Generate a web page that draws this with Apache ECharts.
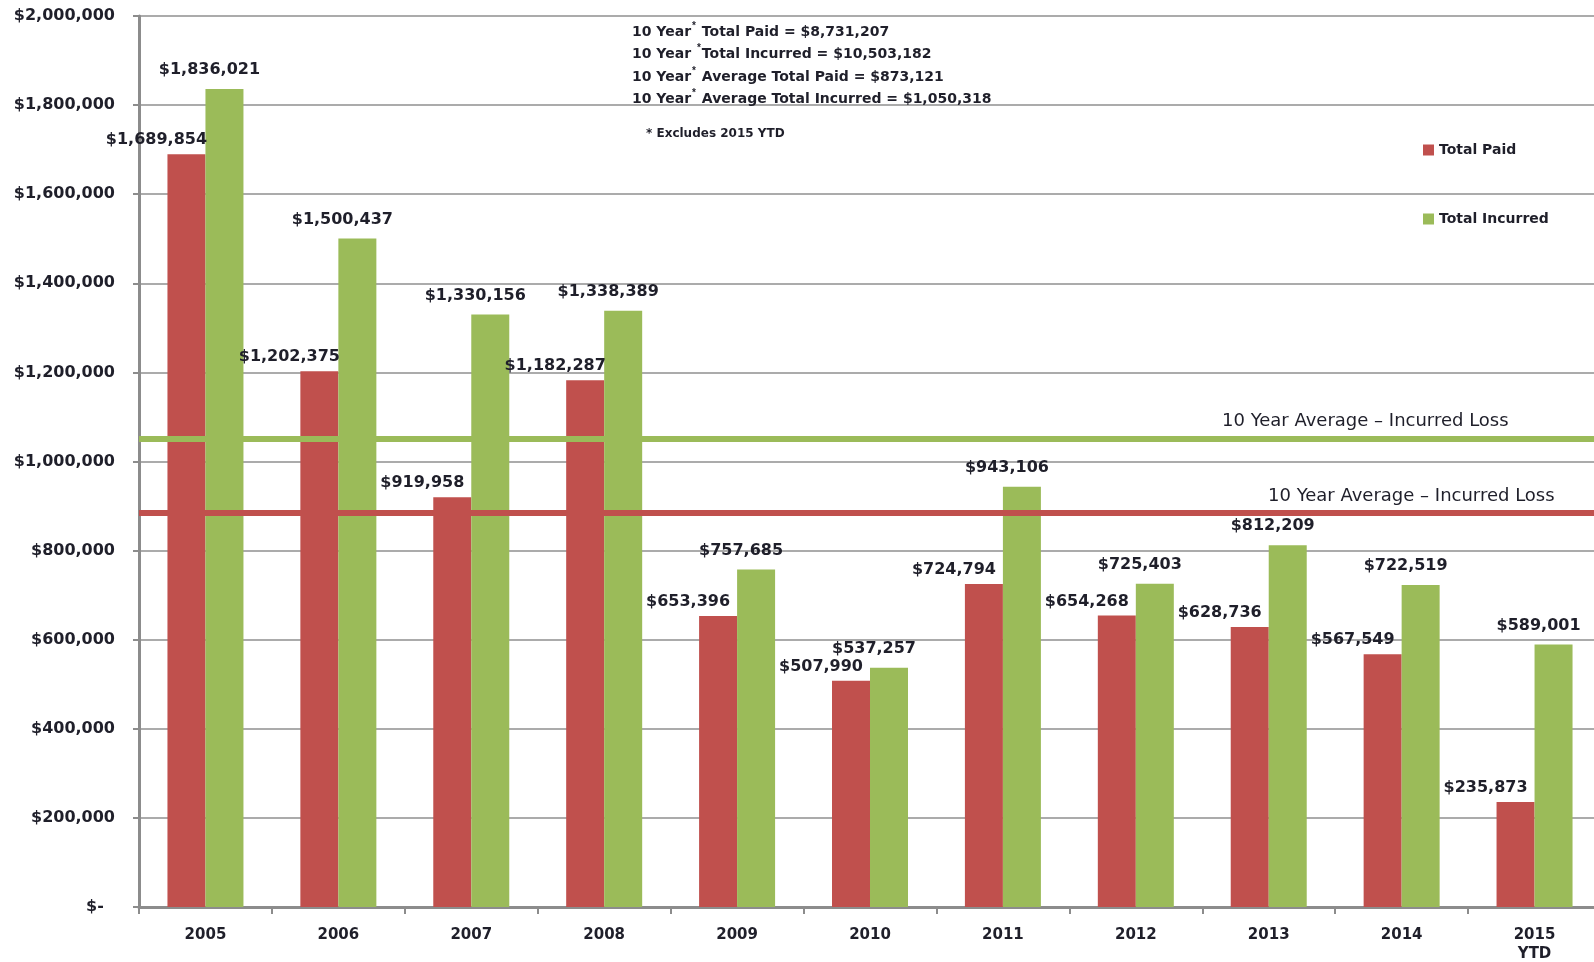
<!DOCTYPE html>
<html>
<head>
<meta charset="utf-8">
<script src="https://cdn.jsdelivr.net/npm/echarts@6/dist/echarts.min.js"></script>
<style>
  html, body { margin: 0; padding: 0; background: #fff; }
  #chart { width: 1594px; height: 962px; }
</style>
</head>
<body>
<div id="chart"></div>
<script>
// categories and values
const years = ['2005', '2006', '2007', '2008', '2009', '2010', '2011', '2012', '2013', '2014', '2015\nYTD'];
const totalPaid = [1689854, 1202375, 919958, 1182287, 653396, 507990, 724794, 654268, 628736, 567549, 235873];
const totalIncurred = [1836021, 1500437, 1330156, 1338389, 757685, 537257, 943106, 725403, 812209, 722519, 589001];
// the two average lines as drawn
const avgIncurredLine = 1050318;
const avgPaidLine = 885000;
const summaryLines = [
  ['10 Year', '*', ' Total Paid = $8,731,207'],
  ['10 Year ', '*', 'Total Incurred = $10,503,182'],
  ['10 Year', '*', ' Average Total Paid = $873,121'],
  ['10 Year', '*', ' Average Total Incurred = $1,050,318']
];

const RED = '#C0504D';
const GREEN = '#9BBB59';
const TEXT = '#1f1f2a';
const FONT = 'DejaVu Sans';

const money = v => v === 0 ? '$-  ' : '$' + v.toLocaleString('en-US');

let chart = echarts.init(document.getElementById('chart'));

// summary text block (top middle)
let summaryText = summaryLines.map(l => l[0] + '{sup|' + l[1] + '}' + l[2]).join('\n');

let option = {
  animation: false,
  textStyle: { fontFamily: FONT },
  // plot runs a little past the right edge of the page
  grid: { left: 139, top: 16, bottom: 55, width: 1462, outerBoundsMode: 'none' },
  legend: {
    orient: 'vertical',
    left: 1418,
    top: 138,
    itemWidth: 11,
    itemHeight: 11,
    itemGap: 55,
    icon: 'rect',
    textStyle: { color: TEXT, fontFamily: FONT, fontWeight: 'bold', fontSize: 14 },
    data: ['Total Paid', 'Total Incurred']
  },
  xAxis: {
    type: 'category',
    data: years,
    axisLine: { lineStyle: { color: '#8c8c8c', width: 3 } },
    axisTick: { show: true, length: 7, lineStyle: { color: '#8c8c8c', width: 2 } },
    axisLabel: {
      color: TEXT, fontFamily: FONT, fontWeight: 'bold', fontSize: 15,
      margin: 19, lineHeight: 19
    }
  },
  yAxis: {
    type: 'value',
    min: 0,
    max: 2000000,
    interval: 200000,
    axisLine: { show: true, lineStyle: { color: '#8c8c8c', width: 3 } },
    axisTick: { show: true, length: 6, lineStyle: { color: '#8c8c8c', width: 2 } },
    splitLine: { lineStyle: { color: '#ababab', width: 2 } },
    axisLabel: {
      color: TEXT, fontFamily: FONT, fontWeight: 'bold', fontSize: 16,
      margin: 24, formatter: money
    }
  },
  series: [
    {
      name: 'Total Paid',
      type: 'bar',
      data: totalPaid,
      barWidth: 38,
      barGap: '0%',
      itemStyle: { color: RED },
      label: {
        show: true, position: 'top', distance: 6, offset: [-30, 0],
        color: TEXT, fontFamily: FONT, fontWeight: 'bold', fontSize: 16,
        formatter: p => money(p.value)
      },
      markLine: {
        silent: true,
        symbol: ['none', 'none'],
        lineStyle: { color: RED, width: 6, type: 'solid' },
        label: { show: false },
        data: [{ yAxis: avgPaidLine }],
        z: 5
      }
    },
    {
      name: 'Total Incurred',
      type: 'bar',
      data: totalIncurred,
      barWidth: 38,
      barGap: '0%',
      itemStyle: { color: GREEN },
      label: {
        show: true, position: 'top', distance: 11, offset: [-15, 0],
        color: TEXT, fontFamily: FONT, fontWeight: 'bold', fontSize: 16,
        formatter: p => money(p.value)
      },
      markLine: {
        silent: true,
        symbol: ['none', 'none'],
        lineStyle: { color: GREEN, width: 6, type: 'solid' },
        label: { show: false },
        data: [{ yAxis: avgIncurredLine }],
        z: 5
      }
    }
  ],
  graphic: [
    {
      type: 'text', left: 632, top: 21, z: 10,
      style: {
        text: summaryText,
        fill: TEXT, font: 'bold 14px "DejaVu Sans"', lineHeight: 22.4,
        rich: { sup: { fontSize: 10, fontWeight: 'bold', verticalAlign: 'top', padding: [0, 1, 6, 1], fill: TEXT } }
      }
    },
    {
      type: 'text', left: 646, top: 128, z: 10,
      style: { text: '* Excludes 2015 YTD', fill: TEXT, font: 'bold 12px "DejaVu Sans"' }
    },
    {
      type: 'text', left: 1222, top: 412, z: 10,
      style: { text: '10 Year Average \u2013 Incurred Loss', fill: TEXT, font: '18px "DejaVu Sans"' }
    },
    {
      type: 'text', left: 1268, top: 487, z: 10,
      style: { text: '10 Year Average \u2013 Incurred Loss', fill: TEXT, font: '18px "DejaVu Sans"' }
    }
  ]
};

chart.setOption(option);
</script>
</body>
</html>
